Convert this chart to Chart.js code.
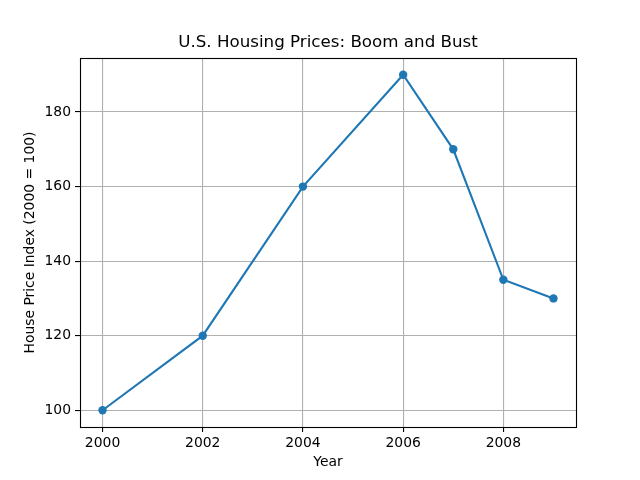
<!DOCTYPE html>
<html>
<head>
<meta charset="utf-8">
<script src="https://cdn.jsdelivr.net/npm/chart.js@4/dist/chart.umd.min.js"></script>
<style>
html,body{margin:0;padding:0;background:#fff;}
canvas{display:block;}
</style>
</head>
<body>
<canvas id="c" width="640" height="480"></canvas>
<script>
const years = [2000, 2002, 2004, 2006, 2007, 2008, 2009];
const prices = [100, 120, 160, 190, 170, 135, 130];
const xTicks = [2000, 2002, 2004, 2006, 2008];
const yTicks = [100, 120, 140, 160, 180];
const chartTitle = 'U.S. Housing Prices: Boom and Bust';

const FONT = "'DejaVu Sans', sans-serif";

const decor = {
  id: 'decor',
  afterDraw(chart) {
    const a = chart.chartArea, ctx = chart.ctx;
    ctx.save();
    ctx.strokeStyle = '#000';
    ctx.lineWidth = 1.1;
    ctx.strokeRect(Math.round(a.left) + 0.5, Math.round(a.top) + 0.5,
                   Math.round(a.right - a.left), Math.round(a.bottom - a.top));
    ctx.fillStyle = '#000';
    ctx.font = "16.7px " + FONT;
    ctx.textAlign = 'center';
    ctx.textBaseline = 'middle';
    ctx.fillText(chartTitle, (a.left + a.right) / 2, 43);
    ctx.restore();
  }
};

new Chart(document.getElementById('c'), {
  type: 'line',
  data: {
    datasets: [{
      data: years.map((y, i) => ({x: y, y: prices[i]})),
      borderColor: '#1f77b4',
      backgroundColor: '#1f77b4',
      borderWidth: 2.1,
      pointRadius: 4.2,
      pointHoverRadius: 4.2,
      pointBorderWidth: 0,
      tension: 0,
      fill: false
    }]
  },
  options: {
    responsive: false,
    animation: false,
    events: [],
    layout: { padding: { left: 0, right: 64, top: 58, bottom: 0 } },
    plugins: {
      legend: { display: false },
      tooltip: { enabled: false },
      title: { display: false }
    },
    scales: {
      x: {
        type: 'linear',
        min: 1999.55,
        max: 2009.45,
        afterBuildTicks: s => { s.ticks = xTicks.map(v => ({value: v})); },
        afterFit: s => { s.height = 53; },
        ticks: {
          color: '#000',
          font: { family: FONT, size: 13.9 },
          padding: 3,
          maxRotation: 0,
          callback: v => String(v)
        },
        grid: { color: '#b0b0b0', lineWidth: 1.1, tickColor: '#000', tickLength: 5, drawTicks: true },
        border: { display: false },
        title: {
          display: true, text: 'Year', color: '#000',
          font: { family: FONT, size: 13.9 },
          padding: { top: 0, bottom: 9 }
        }
      },
      y: {
        type: 'linear',
        min: 95.5,
        max: 194.5,
        afterBuildTicks: s => { s.ticks = yTicks.map(v => ({value: v})); },
        afterFit: s => { s.width = 80; },
        ticks: {
          color: '#000',
          font: { family: FONT, size: 13.9 },
          padding: 4,
          callback: v => String(v)
        },
        grid: { color: '#b0b0b0', lineWidth: 1.1, tickColor: '#000', tickLength: 5, drawTicks: true },
        border: { display: false },
        title: {
          display: true, text: 'House Price Index (2000 = 100)', color: '#000',
          font: { family: FONT, size: 13.9 },
          padding: { top: 22, bottom: 0 }
        }
      }
    }
  },
  plugins: [decor]
});
</script>
</body>
</html>
